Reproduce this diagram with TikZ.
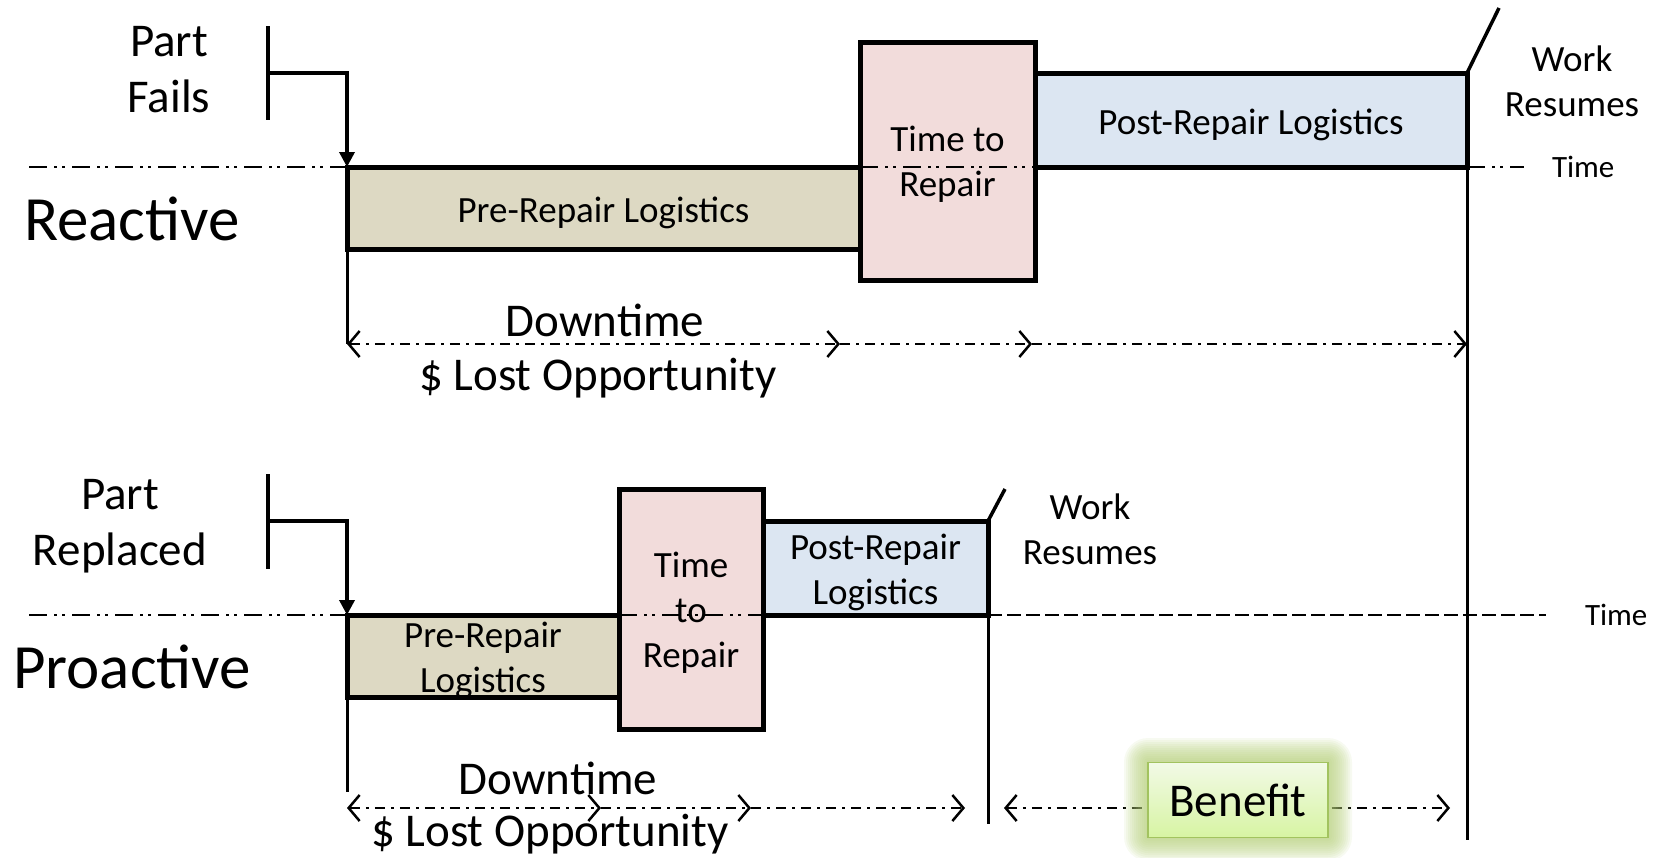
\documentclass[tikz,border=0pt]{standalone}
\usepackage{fontspec}
\setmainfont{Carlito}
\usetikzlibrary{arrows.meta}
\definecolor{prefill}{HTML}{DDD9C3}
\definecolor{repairfill}{HTML}{F2DCDB}
\definecolor{postfill}{HTML}{DCE6F2}
\definecolor{benefittop}{HTML}{F2FAE6}
\definecolor{benefitbottom}{HTML}{D7F4A3}
\definecolor{benefitedge}{HTML}{A2C35F}
\definecolor{glowgreen}{HTML}{B4CE78}

\begin{document}
\begin{tikzpicture}[x=1pt, y=-1pt,
    every node/.style={inner sep=0pt, outer sep=0pt, align=center},
    phase/.style={draw, line width=5pt, anchor=north west},
    boxtext/.style={font=\fontsize{37}{45}\selectfont},
    headtext/.style={font=\fontsize{63}{76}\selectfont},
    eventtext/.style={font=\fontsize{47}{56}\selectfont},
    axistext/.style={font=\fontsize{31}{37}\selectfont},
    timeline/.style={line width=2.5pt, dash pattern=on 18pt off 7pt on 3pt off 5pt on 3pt off 7pt},
    idle/.style={line width=2.5pt, dash pattern=on 14pt off 5pt},
    span/.style={line width=2.5pt, dash pattern=on 10pt off 6pt on 3pt off 6pt},
    edgerule/.style={line width=3pt},
    marker/.style={line width=3.5pt},
    barb/.tip={Straight Barb[length=11pt, width=26pt, line width=2.5pt]},
    drop/.tip={Triangle[length=15pt, width=15pt]},
  ]
  \useasboundingbox (0,0) rectangle (1660,857);

  % reactive maintenance
  \node[headtext] (reactive) at (132,219) {Reactive};
  \node[eventtext] (fails) at (169,70) {Part\\Fails};
  \node[phase, fill=prefill, minimum width=513, minimum height=82] (pre1) at (347,167) {};
  \node[phase, fill=repairfill, minimum width=175, minimum height=238] (ttr1) at (860,42) {};
  \node[phase, fill=postfill, minimum width=432, minimum height=94] (post1) at (1035,73) {};
  \node[boxtext] (pre1text) at ([yshift=-5pt]pre1.center) {Pre-Repair Logistics};
  \node[boxtext] (ttr1text) at ([yshift=-3pt]ttr1.center) {Time to\\Repair};
  \node[boxtext] (post1text) at ([yshift=-5pt]post1.center) {Post-Repair Logistics};
  \node[boxtext] (resume1) at (1572,81) {Work\\Resumes};
  \node[axistext, anchor=west] (time1) at (1552,167) {Time};

  \coordinate (ax1l) at (29,167);
  \coordinate (ax1r) at (1524,167);
  \draw[timeline] (ax1l) -- (pre1.north west);
  \draw[timeline] (pre1.north east) -- (post1.south west);
  \draw[timeline] (post1.south east) -- (ax1r);

  \coordinate (failtop) at (268,26);
  \coordinate (failbot) at (268,120);
  \coordinate (failbar) at (268,73);
  \draw[marker] (failtop) -- (failbot);
  \draw[marker, -drop] (failbar) -| (pre1.north west);
  \draw[marker] (post1.north east) -- ++(32,-65);

  \coordinate (row1) at (0,344);
  \draw[edgerule] (pre1.south west) -- (pre1.south west |- row1);
  \draw[edgerule] (post1.south east) -- ++(0,673);

  \coordinate (d1a) at (840,344);
  \coordinate (d1b) at (1032,344);
  \draw[span, barb-barb] (pre1.south west |- row1) -- (d1a);
  \draw[span, -barb] (d1a) -- (d1b);
  \draw[span, -barb] (d1b) -- (post1.south east |- row1);
  \node[eventtext] (down1) at (605,320) {Downtime};
  \node[eventtext] (lost1) at (598,378) {\$ Lost Opportunity};

  % proactive maintenance
  \node[headtext] (proactive) at (132,667) {Proactive};
  \node[eventtext] (replaced) at (120,526) {Part\\Replaced};
  \node[phase, fill=prefill, minimum width=272, minimum height=82] (pre2) at (347,615) {};
  \node[phase, fill=repairfill, minimum width=144, minimum height=240] (ttr2) at (619,489) {};
  \node[phase, fill=postfill, minimum width=225, minimum height=94] (post2) at (763,521) {};
  \node[boxtext] (pre2text) at ([yshift=-4pt]pre2.center) {Pre-Repair\\Logistics};
  \node[boxtext] (ttr2text) at ([yshift=-4pt]ttr2.center) {Time\\to\\Repair};
  \node[boxtext] (post2text) at ([yshift=-4pt]post2.center) {Post-Repair\\Logistics};
  \node[boxtext] (resume2) at (1090,529) {Work\\Resumes};
  \node[axistext, anchor=west] (time2) at (1585,615) {Time};

  \coordinate (ax2l) at (29,615);
  \coordinate (ax2r) at (1546,615);
  \draw[timeline] (ax2l) -- (pre2.north west);
  \draw[timeline] (pre2.north east) -- (post2.south west);
  \draw[idle] (post2.south east) -- (ax2r);

  \coordinate (reptop) at (268,474);
  \coordinate (repbot) at (268,569);
  \coordinate (repbar) at (268,521);
  \draw[marker] (reptop) -- (repbot);
  \draw[marker, -drop] (repbar) -| (pre2.north west);
  \draw[marker] (post2.north east) -- ++(17,-32);

  \coordinate (row2) at (0,808);
  \draw[edgerule] (pre2.south west) -- ++(0,95);
  \draw[edgerule] (post2.south east) -- ++(0,209);

  \coordinate (d2a) at (601,808);
  \coordinate (d2b) at (751,808);
  \coordinate (d2c) at (965,808);
  \draw[span, barb-barb] (pre2.south west |- row2) -- (d2a);
  \draw[span, -barb] (d2a) -- (d2b);
  \draw[span, -barb] (d2b) -- (d2c);
  \node[eventtext] (down2) at (558,778) {Downtime};
  \node[eventtext] (lost2) at (550,834) {\$ Lost Opportunity};

  \coordinate (b2l) at (1004,808);
  \coordinate (b2r) at (1450,808);
  \draw[span, barb-barb] (b2l) -- (b2r);
  \foreach \g in {2,4,...,24}
    \fill[glowgreen, opacity=0.1, rounded corners=\g] (1148-\g,762-\g) rectangle (1328+\g,837+\g);
  \node[draw=benefitedge, line width=1.5pt, top color=benefittop, bottom color=benefitbottom,
        minimum width=180, minimum height=75, font=\fontsize{47}{56}\selectfont] (benefit) at (1238,800) {Benefit};
\end{tikzpicture}
\end{document}
